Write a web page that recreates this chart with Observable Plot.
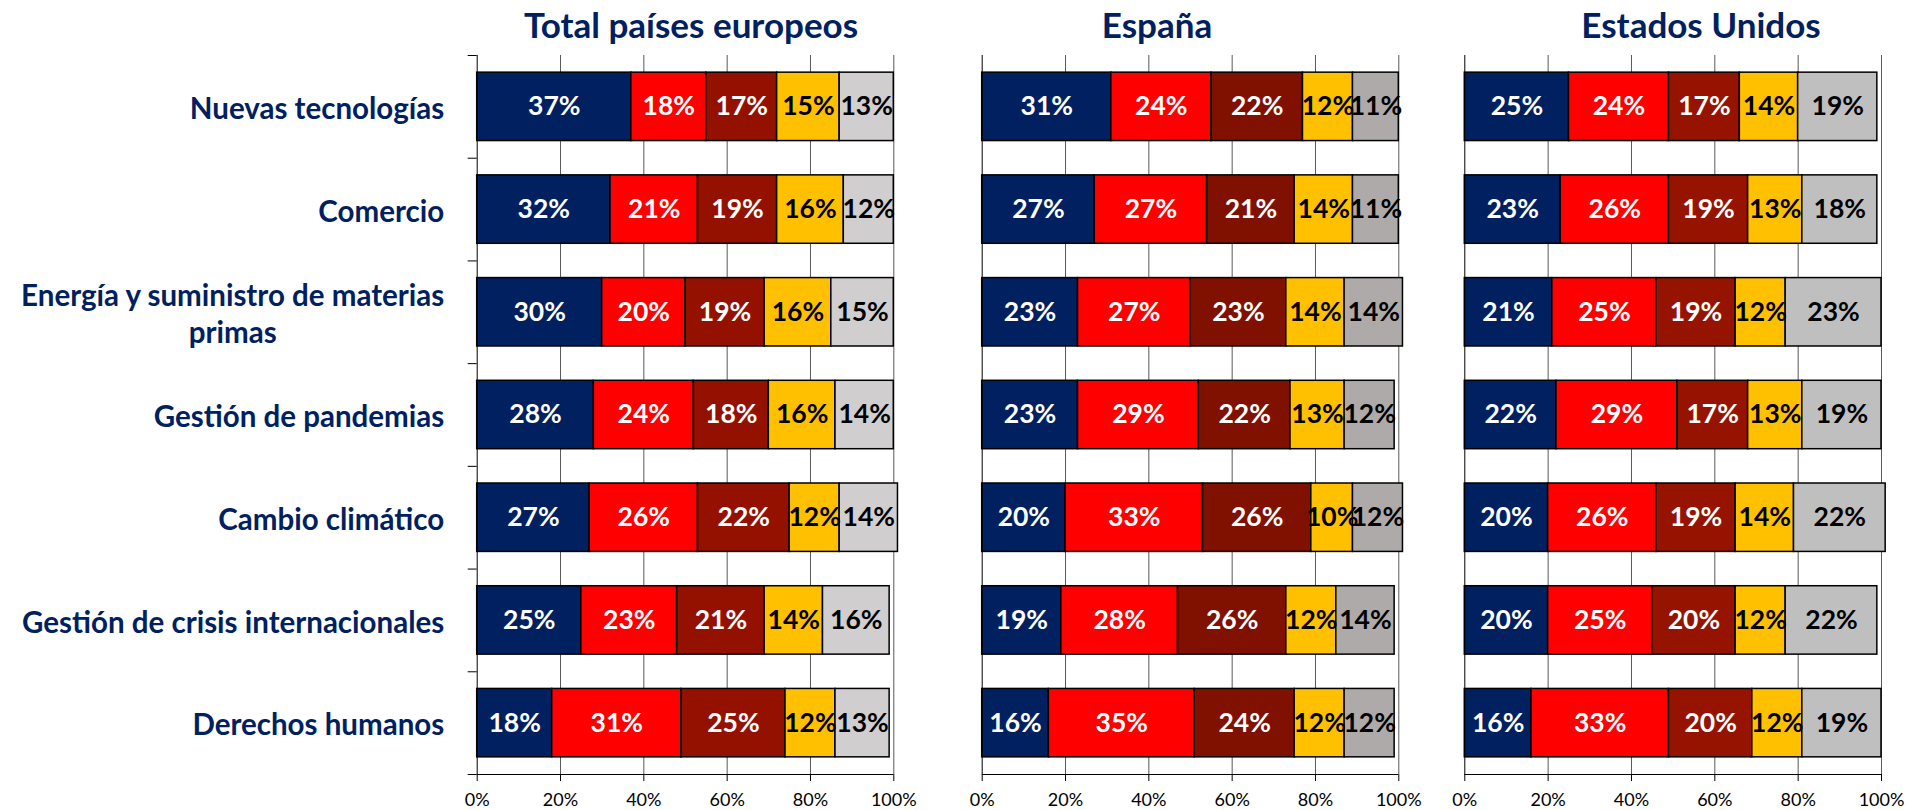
<!DOCTYPE html>
<html><head><meta charset="utf-8">
<script src="https://cdn.jsdelivr.net/npm/d3@7"></script>
<script src="https://cdn.jsdelivr.net/npm/@observablehq/plot@0.6"></script>
<style>
body{margin:0;background:#fff;}
#wrap{position:relative;width:1908px;height:810px;overflow:hidden;font-family:Lato,sans-serif;}
.panel{position:absolute;top:0;}
.title{position:absolute;top:7px;line-height:1;font-weight:bold;font-size:35px;color:#002060;transform:translateX(-50%);white-space:nowrap;}
</style></head><body><div id="wrap"></div>
<script>
const categories = [
  "Nuevas tecnologías",
  "Comercio",
  "Energía y suministro de materias\nprimas",
  "Gestión de pandemias",
  "Cambio climático",
  "Gestión de crisis internacionales",
  "Derechos humanos"
];
const xTicks = [0, 20, 40, 60, 80, 100];
const panelTitles = ["Total países europeos", "España", "Estados Unidos"];
const europeValues = [
  [37,18,17,15,13],[32,21,19,16,12],[30,20,19,16,15],[28,24,18,16,14],
  [27,26,22,12,14],[25,23,21,14,16],[18,31,25,12,13]
];
const spainValues = [
  [31,24,22,12,11],[27,27,21,14,11],[23,27,23,14,14],[23,29,22,13,12],
  [20,33,26,10,12],[19,28,26,12,14],[16,35,24,12,12]
];
const usValues = [
  [25,24,17,14,19],[23,26,19,13,18],[21,25,19,12,23],[22,29,17,13,19],
  [20,26,19,14,22],[20,25,20,12,22],[16,33,20,12,19]
];
const europeColors = ["#002060","#FF0000","#941100","#FFC000","#D0CECE"];
const spainColors  = ["#002060","#FF0000","#801000","#FFC000","#AEAAAA"];
const usColors     = ["#002060","#FF0000","#961300","#FFC000","#BFBFBF"];

const panels = [
  {title: panelTitles[0], values: europeValues, colors: europeColors, left: 0, width: 905, ml: 476.7, mr: 11.7, labels: true, titleX: 691},
  {title: panelTitles[1], values: spainValues, colors: spainColors, left: 905, width: 525, ml: 76.7, mr: 31.7, labels: false, titleX: 1157},
  {title: panelTitles[2], values: usValues, colors: usColors, left: 1430, width: 478, ml: 34.3, mr: 27, labels: false, titleX: 1701}
];

const wrap = document.getElementById("wrap");
for (const p of panels) {
  const rows = [];
  p.values.forEach((vals, i) => {
    let acc = 0;
    vals.forEach((v, s) => { rows.push({i, s, v, x1: acc, x2: acc + v}); acc += v; });
  });
  const marks = [
    Plot.ruleX(xTicks.slice(1), {y1: 0, y2: 7, stroke: "#595959", strokeWidth: 1}),
    Plot.rectX(rows, {x1: "x1", x2: "x2", y1: d => d.i + 0.167, y2: d => d.i + 0.833,
      fill: d => p.colors[d.s], stroke: "black", strokeWidth: 1.5}),
    Plot.text(rows, {x: d => (d.x1 + d.x2) / 2, y: d => d.i + 0.5, text: d => d.v + "%",
      fill: d => d.s < 3 ? "white" : "black", fontWeight: "bold", fontSize: 26.5}),
    Plot.ruleX([0], {y1: 0, y2: 7, stroke: "black"}),
    Plot.ruleY([7], {x1: 0, x2: 100, stroke: "black"}),
    Plot.axisX({ticks: xTicks, tickFormat: d => d + "%", tickSize: 7, tickPadding: 12, fontSize: 18, color: "black", label: null})
  ];
  if (p.labels) {
    marks.push(Plot.axisY({ticks: d3.range(8), tickSize: 9, tickFormat: () => "", color: "black", label: null}));
    marks.push(Plot.axisY({ticks: categories.map((c, i) => i + 0.5), tickFormat: d => categories[Math.floor(d)],
      tickSize: 0, tickPadding: 33, fontSize: 29.5, fontWeight: "bold", color: "#002060", lineHeight: 1.28, label: null}));
  }
  const svg = Plot.plot({
    width: p.width, height: 810,
    marginTop: 55, marginBottom: 36, marginLeft: p.ml, marginRight: p.mr,
    style: {fontFamily: "Lato, sans-serif", background: "transparent", overflow: "visible"},
    x: {domain: [0, 100], label: null},
    y: {domain: [0, 7], reverse: true, label: null, axis: p.labels ? undefined : null},
    marks
  });
  const div = document.createElement("div");
  div.className = "panel";
  div.style.left = p.left + "px";
  div.appendChild(svg);
  wrap.appendChild(div);
  // center multi-line category labels
  svg.querySelectorAll("text").forEach(t => {
    const ts = t.querySelectorAll("tspan");
    if (ts.length > 1) {
      const w = Math.max(...[...ts].map(s => s.getComputedTextLength()));
      t.setAttribute("text-anchor", "middle");
      ts.forEach(s => s.setAttribute("x", (+s.getAttribute("x") || 0) - w / 2));
    }
  });
  const t = document.createElement("div");
  t.className = "title";
  t.style.left = p.titleX + "px";
  t.textContent = p.title;
  wrap.appendChild(t);
}
</script>
</body></html>
